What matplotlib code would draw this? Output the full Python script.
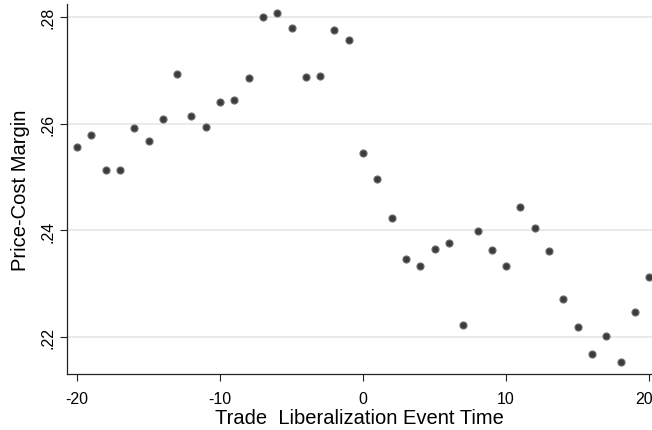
import matplotlib
matplotlib.use("Agg")
import matplotlib.pyplot as plt
from matplotlib.transforms import ScaledTranslation

# event time relative to trade liberalization
event_time = list(range(-20, 21))
# mean price-cost margin at each event time
pcm = [0.2557, 0.2578, 0.2514, 0.2514, 0.2591, 0.2568, 0.2609, 0.2692,
       0.2615, 0.2593, 0.2641, 0.2645, 0.2686, 0.2800, 0.2807, 0.2779,
       0.2688, 0.2690, 0.2776, 0.2757, 0.2544, 0.2497, 0.2424, 0.2346,
       0.2333, 0.2366, 0.2376, 0.2222, 0.2398, 0.2364, 0.2333, 0.2443,
       0.2404, 0.2361, 0.2271, 0.2219, 0.2168, 0.2202, 0.2153, 0.2247,
       0.2312]

xticks = [-20, -10, 0, 10, 20]
yticks = [0.22, 0.24, 0.26, 0.28]
ytick_labels = [".22", ".24", ".26", ".28"]

plt.rcParams['font.family'] = ['Liberation Sans', 'DejaVu Sans']
plt.rcParams['axes.unicode_minus'] = False

fig = plt.figure(figsize=(6.52, 4.31), dpi=100)
ax = fig.add_axes([67 / 652, 56 / 431, 585 / 652, 370 / 431])

ax.scatter(event_time, pcm, s=26, color='#3c3c3c', edgecolors='#6e6e6e',
           linewidths=0.8, zorder=3)

ax.set_xlim(-20.7, 20.2)
ax.set_ylim(0.2131, 0.2824)
ax.set_xticks(xticks)
ax.set_yticks(yticks)
ax.set_yticklabels(ytick_labels, rotation=90, va='center')
ax.tick_params(axis='both', labelsize=11.5, length=5, width=0.8, color='#222222')
ax.tick_params(axis='y', pad=3)
ax.tick_params(axis='x', pad=7)

# nudge the last x label in so it stays inside the canvas
last = ax.get_xticklabels()[-1]
last.set_transform(last.get_transform() + ScaledTranslation(-5 / 100, 0, fig.dpi_scale_trans))

ax.grid(axis='y', color='#e6e6e6', linewidth=1.2)
ax.set_axisbelow(True)
for side in ['top', 'right']:
    ax.spines[side].set_visible(False)
for side in ['left', 'bottom']:
    ax.spines[side].set_color('#222222')
    ax.spines[side].set_linewidth(0.9)

ax.set_xlabel('Trade  Liberalization Event Time', fontsize=14.5, labelpad=2)
ax.set_ylabel('Price-Cost Margin', fontsize=14.5, labelpad=8)

fig.savefig('out.png', dpi=100)
